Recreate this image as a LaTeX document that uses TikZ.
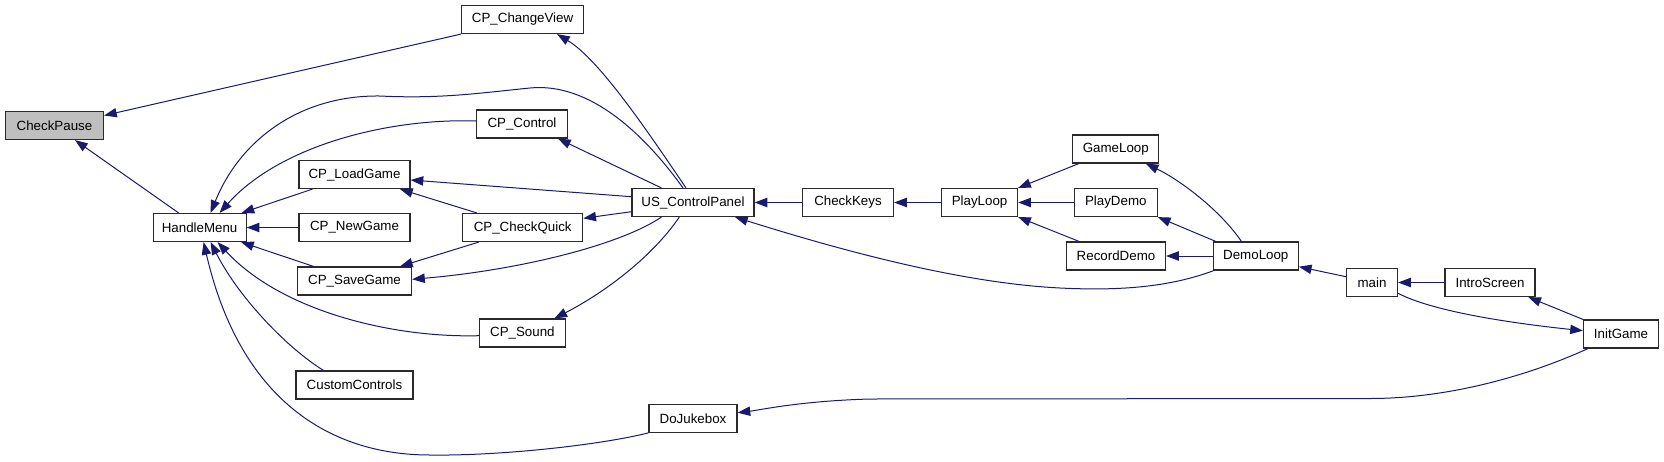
\documentclass[tikz,border=0pt]{standalone}
\usepackage{fontspec}
\setmainfont{Liberation Sans}
\usetikzlibrary{arrows.meta,calc}
\definecolor{edgecol}{HTML}{191970}
\definecolor{hlgray}{HTML}{BFBFBF}
\definecolor{boxline}{HTML}{2A2A2A}
\begin{document}
\begin{tikzpicture}[x=0.75pt,y=-0.75pt,
  fnode/.style={draw=boxline, line width=0.9pt, rectangle, inner sep=0pt,
    minimum height=28*0.75pt, font=\fontsize{10}{12}\selectfont, fill=white},
  bw/.style={minimum width=#1*0.75pt},
  call/.style={draw=edgecol, line width=0.75pt,
    -{Triangle[length=9.5pt,width=7pt]}}]
\useasboundingbox (0,0) rectangle (1664,461);
% nodes
\node[fnode,bw=98,fill=hlgray] (CPa) at (54.5,125.5) {CheckPause};
\node[fnode,bw=93] (HM) at (199.6,227.5) {HandleMenu};
\node[fnode,bw=111] (LG) at (354.5,174.5) {CP\_LoadGame};
\node[fnode,bw=111] (NG) at (354.5,227.5) {CP\_NewGame};
\node[fnode,bw=114] (SG) at (354.5,281) {CP\_SaveGame};
\node[fnode,bw=117] (CC) at (354.5,385) {CustomControls};
\node[fnode,bw=122] (CV) at (522.6,19.5) {CP\_ChangeView};
\node[fnode,bw=91] (CT) at (522,124) {CP\_Control};
\node[fnode,bw=120] (CQ) at (522.7,227.5) {CP\_CheckQuick};
\node[fnode,bw=86] (SN) at (522.4,333) {CP\_Sound};
\node[fnode,bw=88] (DJ) at (693,418.3) {DoJukebox};
\node[fnode,bw=122] (US) at (693,202.5) {US\_ControlPanel};
\node[fnode,bw=91] (CK) at (848,202.5) {CheckKeys};
\node[fnode,bw=76] (PL) at (979.6,202.5) {PlayLoop};
\node[fnode,bw=86] (GL) at (1115.8,149) {GameLoop};
\node[fnode,bw=83] (PD) at (1115.8,202.5) {PlayDemo};
\node[fnode,bw=99] (RD) at (1116,256) {RecordDemo};
\node[fnode,bw=85] (DL) at (1255.8,256) {DemoLoop};
\node[fnode,bw=51] (MN) at (1372,282.5) {main};
\node[fnode,bw=90] (IS) at (1490,282.5) {IntroScreen};
\node[fnode,bw=75] (IG) at (1621,334) {InitGame};
% edges
\draw[call] (CV.south west) -- ($(CPa.east)+(0,-10)$);
\draw[call] ($(HM.north)+(-21,0)$) -- ($(CPa.south)+(20.5,0)$);
\draw[call] ($(US.north)+(-7,0)$) .. controls (650,135) and (600,60) .. ($(CV.south)+(34.5,0)$);
\draw[call] ($(US.north)+(-10,0)$) .. controls (645,135) and (590,82) .. (530,88)
  .. controls (480,93) and (440,99) .. (380,96)
  .. controls (300,95) and (240,140) .. ($(HM.north)+(11,0)$);
\draw[call] ($(CT.west)+(0,-3)$) .. controls (390,118) and (280,145) .. ($(HM.north)+(20,0)$);
\draw[call] ($(LG.south)+(-42,0)$) -- ($(HM.north)+(42,0)$);
\draw[call] (NG.west) -- (HM.east);
\draw[call] ($(SG.north)+(-41,0)$) -- ($(HM.south)+(41.5,0)$);
\draw[call] ($(SN.west)+(0,2.7)$) .. controls (390,338) and (280,310) .. ($(HM.south)+(18,0)$);
\draw[call] ($(CC.north)+(-31,0)$) .. controls (290,350) and (240,300) .. ($(HM.south)+(11,0)$);
\draw[call] (DJ.south west) .. controls (600,445) and (500,456) .. (430,455)
  .. controls (330,455) and (240,400) .. ($(HM.south)+(4,0)$);
\draw[call] ($(US.north)+(-31.6,0)$) -- ($(CT.south)+(36,0)$);
\draw[call] ($(US.west)+(0,-5.8)$) -- ($(LG.east)+(0,5.5)$);
\draw[call] ($(CQ.north)+(-46,0)$) -- ($(LG.south)+(45.5,0)$);
\draw[call] ($(US.west)+(0,9.2)$) -- ($(CQ.east)+(0,-9.2)$);
\draw[call] ($(CQ.south)+(-44,0)$) -- ($(SG.north)+(45.5,0)$);
\draw[call] ($(US.south)+(-31.6,0)$) .. controls (620,245) and (520,270) .. ($(SG.east)+(0,-1.7)$);
\draw[call] ($(US.south)+(-13.7,0)$) .. controls (650,260) and (600,295) .. ($(SN.north)+(32,0)$);
\draw[call] (CK.west) -- (US.east);
\draw[call] ($(DL.south west)+(1,0)$) .. controls (1170,287) and (1120,291) .. (1060,288)
  .. controls (960,283) and (840,250) .. ($(US.south)+(42,0)$);
\draw[call] (PL.west) -- (CK.east);
\draw[call] ($(GL.south)+(-37,0)$) -- (PL.north east);
\draw[call] (PD.west) -- (PL.east);
\draw[call] ($(RD.north)+(-37,0)$) -- (PL.south east);
\draw[call] ($(DL.north)+(-14.4,0)$) .. controls (1220,210) and (1180,180) .. ($(GL.south)+(30,0)$);
\draw[call] ($(DL.north west)+(3,0)$) -- (PD.south east);
\draw[call] (DL.west) -- (RD.east);
\draw[call] ($(MN.west)+(0,-5.8)$) -- ($(DL.east)+(0,10.7)$);
\draw[call] (IS.west) -- (MN.east);
\draw[call] (IG.north west) -- ($(IS.south)+(38.3,0)$);
\draw[call] ($(MN.east)+(0,10.8)$) .. controls (1430,310) and (1500,322) .. ($(IG.west)+(0,-3.3)$);
\draw[call] ($(IG.south west)+(5,0)$) .. controls (1530,375) and (1450,398.5) .. (1370,398.5)
  -- (870,399) .. controls (800,401) and (760,410) .. ($(DJ.east)+(0,-5.6)$);
\end{tikzpicture}
\end{document}
